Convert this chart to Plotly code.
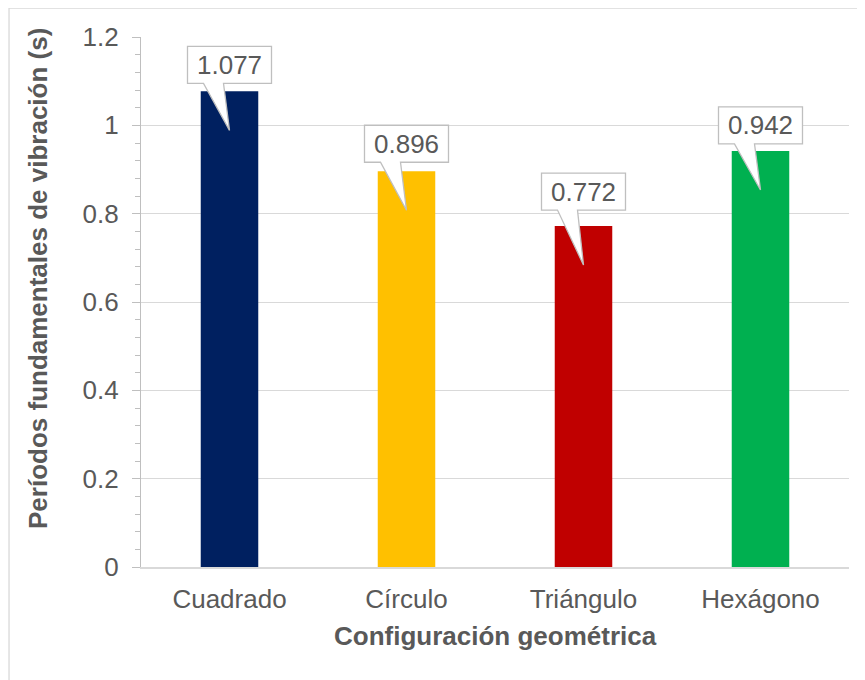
import plotly.graph_objects as go

categories = ["Cuadrado", "Círculo", "Triángulo", "Hexágono"]
periods = [1.077, 0.896, 0.772, 0.942]
value_labels = ["1.077", "0.896", "0.772", "0.942"]

bar_colors = ["#002060", "#FFC000", "#C00000", "#00B050"]
label_lift_px = [8, 9, 16, 7]   # gap between bar top and callout box (pixels)

TXT = "#595959"
FONT = "Liberation Sans, Arial, sans-serif"
FS = 26

x_pos = list(range(len(categories)))

fig = go.Figure()
fig.add_trace(go.Bar(
    x=x_pos, y=periods, marker=dict(color=bar_colors, line=dict(width=0)),
    width=0.325, hoverinfo="skip", showlegend=False,
))

BOX_W, BOX_H, TIP = 42, 37, 39
shapes = []
annotations = []
for i, (v, lab, lift) in enumerate(zip(periods, value_labels, label_lift_px)):
    L = lift
    path = (f"M -{BOX_W},{L + BOX_H} L {BOX_W},{L + BOX_H} L {BOX_W},{L} "
            f"L -6,{L} L 0,-{TIP} L -26,{L} L -{BOX_W},{L} Z")
    shapes.append(dict(
        type="path", xref="x", yref="y", xsizemode="pixel", ysizemode="pixel",
        xanchor=x_pos[i], yanchor=v, path=path,
        fillcolor="white", line=dict(color="#BFBFBF", width=1.3), layer="above",
    ))
    annotations.append(dict(
        x=x_pos[i], y=v, xref="x", yref="y", text=lab, showarrow=False,
        yanchor="middle", xanchor="center", yshift=L + BOX_H / 2,
        font=dict(family=FONT, size=FS, color=TXT),
    ))

# chart border (left/top visible)
shapes.append(dict(type="rect", xref="paper", yref="paper",
                   x0=-0.1864, x1=1.2, y0=-0.3, y1=1.0547,
                   line=dict(color="#D9D9D9", width=1.3), fillcolor="rgba(0,0,0,0)",
                   layer="below"))

annotations.append(dict(
    text="<b>Períodos fundamentales de vibración (s)</b>", textangle=-90,
    xref="paper", yref="paper", x=(38 - 141) / 708, y=(567 - 279) / 530,
    xanchor="center", yanchor="middle", showarrow=False,
    font=dict(family=FONT, size=FS, color=TXT),
))
annotations.append(dict(
    text="<b>Configuración geométrica</b>",
    xref="paper", yref="paper", x=0.5, y=(567 - 636) / 530,
    xanchor="center", yanchor="middle", showarrow=False,
    font=dict(family=FONT, size=FS, color=TXT),
))

fig.update_layout(
    width=865, height=680,
    margin=dict(l=133, r=24, t=29, b=121),
    paper_bgcolor="white", plot_bgcolor="white",
    font=dict(family=FONT, size=FS, color=TXT),
    shapes=shapes, annotations=annotations,
    xaxis=dict(
        range=[-0.5, 3.5], tickvals=x_pos, ticktext=categories,
        showgrid=False, zeroline=False, showline=True,
        linecolor="#D9D9D9", linewidth=1.5,
        ticks="outside", ticklen=8, tickcolor="rgba(0,0,0,0)",
        tickfont=dict(family=FONT, size=FS, color=TXT),
    ),
    yaxis=dict(
        range=[0, 1.2], dtick=0.2, tick0=0,
        showgrid=True, gridcolor="#D9D9D9", gridwidth=1,
        zeroline=False, showline=True, linecolor="#BFBFBF", linewidth=1.3,
        ticks="outside", ticklen=8, tickcolor="#BFBFBF", tickwidth=1.3,
        minor=dict(ticks="outside", ticklen=5, dtick=0.04, tickcolor="#BFBFBF",
                   tickwidth=1.3, showgrid=False),
        tickformat="~g", ticklabelstandoff=8,
        tickfont=dict(family=FONT, size=FS, color=TXT),
    ),
    bargap=0.675,
)

fig.write_html("out.html")
